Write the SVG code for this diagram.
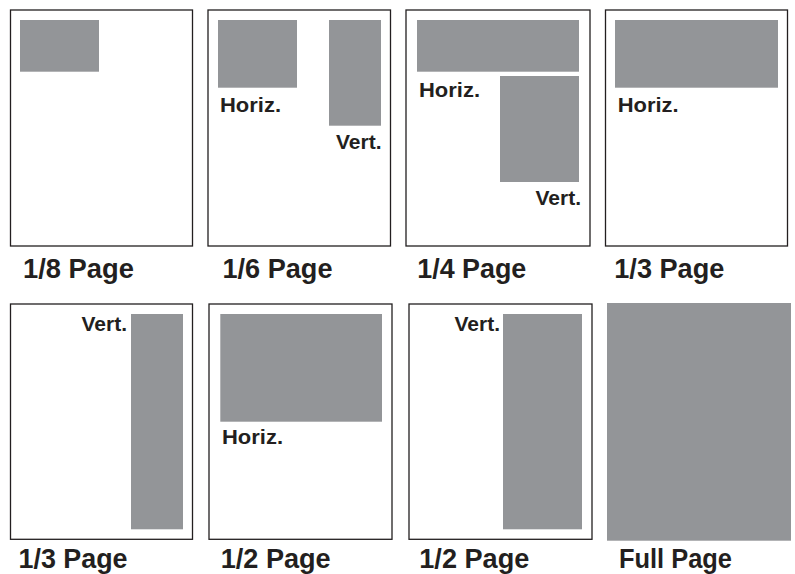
<svg xmlns="http://www.w3.org/2000/svg" width="795" height="574" viewBox="0 0 795 574">
<style>
.page{fill:#fff;stroke:#231f20;stroke-width:1.3}
.ad{fill:#939598}
.lbl{font-family:"Liberation Sans",Arial,sans-serif;font-weight:700;font-size:27px;fill:#231f20}
.sm{font-family:"Liberation Sans",Arial,sans-serif;font-weight:700;font-size:21px;fill:#231f20}
</style>
<rect width="795" height="574" fill="#fff"/>
<g id="eighth">
<rect class="page" x="10.5" y="10" width="182" height="236"/>
<rect class="ad" x="20" y="20" width="79" height="51.7"/>
<text class="lbl" x="23" y="278" textLength="111" lengthAdjust="spacingAndGlyphs">1/8 Page</text>
</g>
<g id="sixth">
<rect class="page" x="208" y="10" width="182.5" height="236"/>
<rect class="ad" x="218" y="20" width="79" height="67.7"/>
<rect class="ad" x="329" y="20" width="52" height="105.7"/>
<text class="sm" x="220" y="111.5" textLength="61" lengthAdjust="spacingAndGlyphs">Horiz.</text>
<text class="sm" x="381.5" y="149.3" text-anchor="end">Vert.</text>
<text class="lbl" x="222.5" y="278" textLength="110" lengthAdjust="spacingAndGlyphs">1/6 Page</text>
</g>
<g id="quarter">
<rect class="page" x="406" y="10" width="184" height="236"/>
<rect class="ad" x="417" y="20" width="162" height="51.7"/>
<rect class="ad" x="500" y="76" width="79" height="106"/>
<text class="sm" x="419" y="96.5" textLength="61" lengthAdjust="spacingAndGlyphs">Horiz.</text>
<text class="sm" x="581" y="205" text-anchor="end">Vert.</text>
<text class="lbl" x="417.3" y="278" textLength="109" lengthAdjust="spacingAndGlyphs">1/4 Page</text>
</g>
<g id="third-h">
<rect class="page" x="605.5" y="10" width="182" height="236"/>
<rect class="ad" x="615" y="20" width="163" height="67.7"/>
<text class="sm" x="617.7" y="111.5" textLength="61" lengthAdjust="spacingAndGlyphs">Horiz.</text>
<text class="lbl" x="614.3" y="278" textLength="110" lengthAdjust="spacingAndGlyphs">1/3 Page</text>
</g>
<g id="third-v">
<rect class="page" x="10.5" y="304" width="182" height="235.3"/>
<rect class="ad" x="131" y="314" width="52" height="215.3"/>
<text class="sm" x="127" y="330.7" text-anchor="end">Vert.</text>
<text class="lbl" x="18.5" y="567.7" textLength="109" lengthAdjust="spacingAndGlyphs">1/3 Page</text>
</g>
<g id="half-h">
<rect class="page" x="209" y="304" width="183" height="235.3"/>
<rect class="ad" x="220.3" y="314" width="161.7" height="107.7"/>
<text class="sm" x="222" y="444" textLength="61" lengthAdjust="spacingAndGlyphs">Horiz.</text>
<text class="lbl" x="220.7" y="567.7" textLength="110" lengthAdjust="spacingAndGlyphs">1/2 Page</text>
</g>
<g id="half-v">
<rect class="page" x="409" y="304" width="183" height="235.3"/>
<rect class="ad" x="503" y="314" width="79" height="215.3"/>
<text class="sm" x="500" y="330.7" text-anchor="end">Vert.</text>
<text class="lbl" x="419.3" y="567.7" textLength="110" lengthAdjust="spacingAndGlyphs">1/2 Page</text>
</g>
<g id="full">
<rect class="ad" x="607" y="303" width="184" height="237.7"/>
<text class="lbl" x="619" y="567.7" textLength="113" lengthAdjust="spacingAndGlyphs">Full Page</text>
</g>
</svg>
